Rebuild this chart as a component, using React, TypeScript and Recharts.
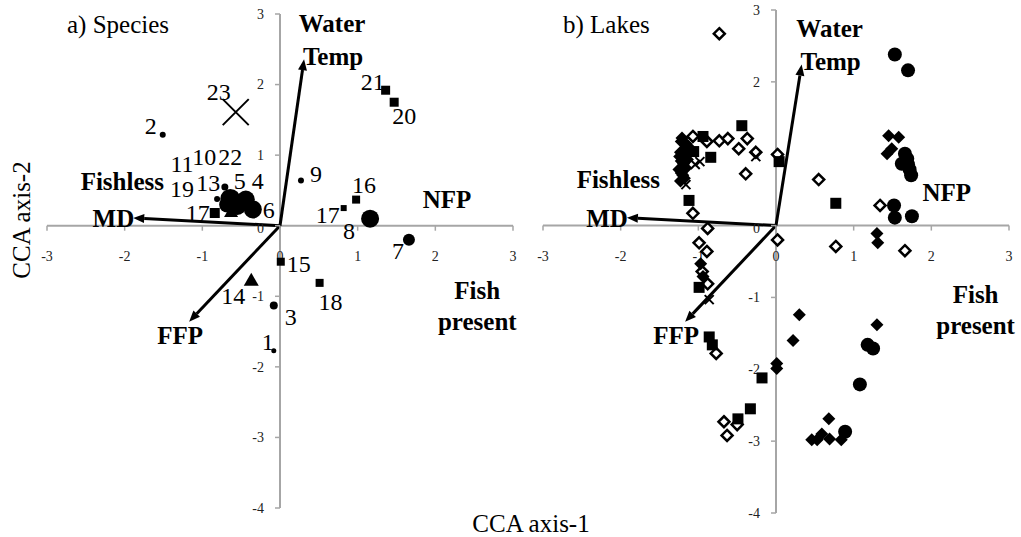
import React from 'react';
import { ScatterChart, Scatter, XAxis, YAxis, ReferenceLine, ReferenceDot } from 'recharts';

const SERIF = "'Times New Roman', 'Liberation Serif', serif";
const AXIS_GREY = '#a6a6a6';
const INK = '#000';

const xTicks = [-3, -2, -1, 0, 1, 2, 3];
const yTicks = [3, 2, 1, 0, -1, -2, -3, -4];

// ---------- a) Species scores ----------
const speciesScores = [
  { key: 's1', label: '1', x: -0.08, y: -1.77 },
  { key: 's2', label: '2', x: -1.51, y: 1.29 },
  { key: 's3', label: '3', x: -0.08, y: -1.13 },
  { key: 's4', label: '4', x: -0.44, y: 0.37 },
  { key: 's5', label: '5', x: -0.71, y: 0.55 },
  { key: 's6', label: '6', x: -0.35, y: 0.23 },
  { key: 's7', label: '7', x: 1.66, y: -0.2 },
  { key: 's8', label: '8', x: 1.16, y: 0.1 },
  { key: 's9', label: '9', x: 0.27, y: 0.64 },
  { key: 's10', label: '10', x: -0.64, y: 0.38 },
  { key: 's11', label: '11', x: -0.63, y: 0.18 },
  { key: 's13', label: '13', x: -0.68, y: 0.3 },
  { key: 's14', label: '14', x: -0.37, y: -0.79 },
  { key: 's15', label: '15', x: 0.01, y: -0.51 },
  { key: 's16', label: '16', x: 0.98, y: 0.37 },
  { key: 's17a', label: '17', x: -0.84, y: 0.18 },
  { key: 's17b', label: '17', x: 0.82, y: 0.25 },
  { key: 's18', label: '18', x: 0.51, y: -0.81 },
  { key: 's19', label: '19', x: -0.81, y: 0.38 },
  { key: 's20', label: '20', x: 1.47, y: 1.75 },
  { key: 's21', label: '21', x: 1.36, y: 1.92 },
  { key: 's22', label: '22', x: -0.55, y: 0.28 },
  { key: 's23', label: '23', x: -0.57, y: 1.61 },
];

// Environmental vectors (arrow tips) and nominal-variable centroids
const vectorsA = [
  { name: 'Water Temp', x: 0.31, y: 2.36 },
  { name: 'MD', x: -1.89, y: 0.11 },
  { name: 'FFP', x: -1.17, y: -1.36 },
];
const centroidsA = [
  { name: 'Fishless', x: -2.03, y: 0.62 },
  { name: 'NFP', x: 2.15, y: 0.37 },
  { name: 'Fish present', x: 2.54, y: -1.14 },
];

// ---------- b) Lake scores ----------
const lakesCircle = [
  { x: 1.53, y: 2.38 }, { x: 1.7, y: 2.16 }, { x: 1.66, y: 1.0 }, { x: 1.69, y: 0.93 },
  { x: 1.62, y: 0.86 }, { x: 1.7, y: 0.85 }, { x: 1.72, y: 0.78 }, { x: 1.74, y: 0.7 },
  { x: 1.52, y: 0.28 }, { x: 1.53, y: 0.11 }, { x: 1.75, y: 0.13 }, { x: 1.18, y: -1.66 },
  { x: 1.25, y: -1.71 }, { x: 1.08, y: -2.21 }, { x: 0.89, y: -2.87 },
];
const lakesDiamond = [
  { x: 1.45, y: 1.25 }, { x: 1.58, y: 1.23 }, { x: 1.49, y: 1.07 }, { x: 1.43, y: 1.0 },
  { x: 1.3, y: -0.11 }, { x: 1.31, y: -0.24 }, { x: 0.3, y: -1.24 }, { x: 1.3, y: -1.38 },
  { x: 0.22, y: -1.6 }, { x: 0.01, y: -1.92 }, { x: 0.01, y: -1.99 }, { x: 0.68, y: -2.69 },
  { x: 0.59, y: -2.9 }, { x: 0.46, y: -2.98 }, { x: 0.53, y: -2.98 }, { x: 0.69, y: -2.97 },
  { x: 0.84, y: -2.98 }, { x: -1.22, y: 1.17 }, { x: -1.18, y: 1.06 }, { x: -1.24, y: 0.96 },
  { x: -1.19, y: 0.86 }, { x: -1.25, y: 0.78 }, { x: -1.2, y: 0.7 }, { x: -1.13, y: 1.1 },
  { x: -1.14, y: 0.92 }, { x: -1.23, y: 0.62 }, { x: -0.97, y: -0.53 }, { x: -0.94, y: -0.71 },
  { x: -1.21, y: 1.22 }, { x: -1.16, y: 1.14 }, { x: -1.23, y: 1.02 }, { x: -1.17, y: 0.99 },
  { x: -1.22, y: 0.9 }, { x: -1.16, y: 0.8 }, { x: -1.22, y: 0.73 }, { x: -1.18, y: 0.66 },
];
const lakesOpenDiamond = [
  { x: 0.02, y: 0.99 }, { x: 0.55, y: 0.64 }, { x: 1.34, y: 0.28 }, { x: 0.02, y: -0.2 },
  { x: 0.77, y: -0.29 }, { x: 1.66, y: -0.35 }, { x: -0.73, y: 2.67 }, { x: -1.07, y: 1.24 },
  { x: -0.89, y: 1.17 }, { x: -0.73, y: 1.18 }, { x: -0.62, y: 1.21 }, { x: -0.48, y: 1.07 },
  { x: -0.37, y: 1.21 }, { x: -0.26, y: 1.02 }, { x: -0.39, y: 0.72 }, { x: -1.07, y: 0.17 },
  { x: -0.88, y: -0.04 }, { x: -0.99, y: -0.24 }, { x: -0.89, y: -0.36 }, { x: -0.95, y: -0.64 },
  { x: -0.88, y: -0.81 }, { x: -0.77, y: -1.78 }, { x: -0.67, y: -2.73 }, { x: -0.5, y: -2.77 },
  { x: -0.63, y: -2.92 },
];
const lakesSquare = [
  { x: -0.44, y: 1.39 }, { x: -0.94, y: 1.24 }, { x: -1.06, y: 1.03 }, { x: -0.84, y: 0.95 },
  { x: -1.12, y: 0.35 }, { x: 0.04, y: 0.89 }, { x: 0.77, y: 0.31 }, { x: -0.99, y: -0.86 },
  { x: -0.86, y: -1.55 }, { x: -0.82, y: -1.66 }, { x: -0.18, y: -2.12 }, { x: -0.33, y: -2.55 },
  { x: -0.49, y: -2.69 },
];
const lakesCross = [
  { x: -1.16, y: 0.57 }, { x: -1.04, y: 0.85 }, { x: -0.98, y: 0.89 }, { x: -0.26, y: 0.96 },
  { x: -0.86, y: -1.03 },
];

const vectorsB = [
  { name: 'Water Temp', x: 0.33, y: 2.24 },
  { name: 'MD', x: -1.92, y: 0.11 },
  { name: 'FFP', x: -1.17, y: -1.34 },
];
const centroidsB = [
  { name: 'Fishless', x: -2.03, y: 0.64 },
  { name: 'NFP', x: 2.2, y: 0.46 },
  { name: 'Fish present', x: 2.57, y: -1.17 },
];

// ---------- marker look per species (shape, diameter in px) ----------
const speciesMarker: Record<string, [string, number]> = {
  s1: ['dot', 5], s2: ['dot', 6], s3: ['dot', 8], s4: ['dot', 18], s5: ['dot', 7],
  s6: ['dot', 18], s7: ['dot', 12], s8: ['dot', 18], s9: ['dot', 6], s10: ['dot', 20],
  s11: ['triangle', 14], s13: ['dot', 16], s14: ['triangle', 15], s15: ['square', 8],
  s16: ['square', 8], s17a: ['square', 10], s17b: ['square', 6], s18: ['square', 8],
  s19: ['dot', 6], s20: ['square', 9], s21: ['square', 9], s22: ['dot', 18], s23: ['cross', 26],
};

// label centre offset from the marker, px
const speciesLabelOffset: Record<string, [number, number]> = {
  s1: [-6, -9], s2: [-12, -9], s3: [17, 11], s4: [12, -19], s5: [15, -6], s6: [16, 0],
  s7: [-11, 11], s8: [-21, 12], s9: [15, -7], s10: [-26, -42], s11: [-49, -49],
  s13: [-19, -22], s14: [-18, 14], s15: [18, 2], s16: [8, -15], s17a: [-17, 0],
  s17b: [-16, 7], s18: [11, 19], s19: [-35, -10], s20: [10, 14], s21: [-13, -8],
  s22: [-7, -49], s23: [-17, -20],
};

const BOLD_SIZE = 25;

function marker(kind: string, cx: number, cy: number, d: number, open = false) {
  const r = d / 2;
  if (kind === 'dot') return <circle cx={cx} cy={cy} r={r} fill={INK} />;
  if (kind === 'square') return <rect x={cx - r} y={cy - r} width={d} height={d} fill={INK} />;
  if (kind === 'triangle') {
    const h = d * 0.87;
    return (
      <polygon
        points={`${cx},${cy - (h * 2) / 3} ${cx - r},${cy + h / 3} ${cx + r},${cy + h / 3}`}
        fill={INK}
      />
    );
  }
  if (kind === 'diamond') {
    return (
      <polygon
        points={`${cx},${cy - r} ${cx + r},${cy} ${cx},${cy + r} ${cx - r},${cy}`}
        fill={open ? '#fff' : INK}
        stroke={INK}
        strokeWidth={open ? 2.5 : 0}
      />
    );
  }
  // cross
  return (
    <path
      d={`M${cx - r},${cy - r}L${cx + r},${cy + r}M${cx - r},${cy + r}L${cx + r},${cy - r}`}
      stroke={INK}
      strokeWidth={2}
      fill="none"
    />
  );
}

const speciesShape = (p: any) => {
  if (p.cx == null || p.cy == null) return <g />;
  const key = p.payload.key as string;
  const [kind, d] = speciesMarker[key];
  const [dx, dy] = speciesLabelOffset[key];
  return (
    <g>
      {marker(kind, p.cx, p.cy, d)}
      <text
        x={p.cx + dx}
        y={p.cy + dy}
        dy="0.34em"
        textAnchor="middle"
        fontFamily={SERIF}
        fontSize={24}
        fill={INK}
      >
        {p.payload.label}
      </text>
    </g>
  );
};

const simpleShape = (kind: string, d: number, open = false) => (p: any) =>
  p.cx == null ? <g /> : marker(kind, p.cx, p.cy, d, open);

// arrow from origin to the vector tip
const arrowShape = (p: any) => {
  const { x1, y1, x2, y2 } = p;
  const a = Math.atan2(y2 - y1, x2 - x1);
  const L = 11;
  const W = 4.5;
  const bx = x2 - L * Math.cos(a);
  const by = y2 - L * Math.sin(a);
  const s = Math.sin(a);
  const c = Math.cos(a);
  return (
    <g>
      <line x1={x1} y1={y1} x2={bx} y2={by} stroke={INK} strokeWidth={3} />
      <polygon
        points={`${x2},${y2} ${bx - W * s},${by + W * c} ${bx + W * s},${by - W * c}`}
        fill={INK}
      />
    </g>
  );
};

const boldText = (lines: string[], x: number, y: number, anchor: string = 'middle') => (
  <text fontFamily={SERIF} fontWeight="bold" fontSize={BOLD_SIZE} fill={INK} textAnchor={anchor}>
    {lines.map((ln, i) => (
      <tspan key={ln} x={x} y={y + (i - (lines.length - 1) / 2) * 31} dy="0.34em">
        {ln}
      </tspan>
    ))}
  </text>
);

const vectorLabel = (name: string) => (p: any) => {
  const { cx, cy } = p;
  if (name === 'Water Temp') {
    return (
      <text fontFamily={SERIF} fontWeight="bold" fontSize={BOLD_SIZE} fill={INK} textAnchor="middle">
        <tspan x={cx + 28} y={cy - 36} dy="0.34em">Water</tspan>
        <tspan x={cx + 29} y={cy - 3} dy="0.34em">Temp</tspan>
      </text>
    );
  }
  if (name === 'MD') return boldText(['MD'], cx + 1, cy + 1, 'end');
  return boldText([name], cx - 9, cy + 14);
};

const centroidLabel = (name: string) => (p: any) => boldText(name.split(' '), p.cx, p.cy);

const xTickShape = (v: number) => (p: any) => (
  <g>
    <line x1={p.cx} y1={p.cy} x2={p.cx} y2={p.cy + 5} stroke={AXIS_GREY} strokeWidth={1.5} />
    <text x={p.cx} y={p.cy + 31} dy="0.34em" textAnchor="middle" fontFamily={SERIF} fontSize={14} fill="#222">
      {v}
    </text>
  </g>
);

const yTickShape = (v: number) => (p: any) => (
  <g>
    <line x1={p.cx} y1={p.cy} x2={p.cx - 5} y2={p.cy} stroke={AXIS_GREY} strokeWidth={1.5} />
    <text x={p.cx - 16} y={p.cy + (v === 0 ? 3 : 0)} dy="0.34em" textAnchor="end" fontFamily={SERIF} fontSize={14} fill="#222">
      {v}
    </text>
  </g>
);

function axesAndVectors(vectors: { name: string; x: number; y: number }[], centroids: { name: string; x: number; y: number }[]) {
  return [
    <ReferenceLine key="hx" segment={[{ x: -3, y: 0 }, { x: 3, y: 0 }]} stroke={AXIS_GREY} strokeWidth={2} />,
    <ReferenceLine key="vy" segment={[{ x: 0, y: -4 }, { x: 0, y: 3 }]} stroke={AXIS_GREY} strokeWidth={2} />,
    ...xTicks.map((t) => <ReferenceDot key={`xt${t}`} x={t} y={0} r={0} shape={xTickShape(t)} />),
    ...yTicks.map((t) => <ReferenceDot key={`yt${t}`} x={0} y={t} r={0} shape={yTickShape(t)} />),
    ...vectors.map((v) => (
      <ReferenceLine key={`v${v.name}`} segment={[{ x: 0, y: 0 }, { x: v.x, y: v.y }]} shape={arrowShape} />
    )),
    ...vectors.map((v) => (
      <ReferenceDot key={`vl${v.name}`} x={v.x} y={v.y} r={0} shape={vectorLabel(v.name)} />
    )),
    ...centroids.map((c) => (
      <ReferenceDot key={`c${c.name}`} x={c.x} y={c.y} r={0} shape={centroidLabel(c.name)} />
    )),
  ];
}

export default function App() {
  return (
    <div style={{ position: 'absolute', left: 0, top: 0, width: 1021, height: 537, background: '#fff' }}>
      <svg width={1021} height={537} style={{ position: 'absolute', left: 0, top: 0 }}>
        <text x={67} y={33} fontFamily={SERIF} fontSize={25} fill={INK}>a) Species</text>
        <text x={563} y={33} fontFamily={SERIF} fontSize={25} fill={INK}>b) Lakes</text>
        <text
          transform="translate(21,220) rotate(-90)"
          dy="0.34em"
          textAnchor="middle"
          fontFamily={SERIF}
          fontSize={25}
          fill={INK}
        >
          CCA axis-2
        </text>
        <text x={531} y={523} dy="0.34em" textAnchor="middle" fontFamily={SERIF} fontSize={25} fill={INK}>
          CCA axis-1
        </text>
      </svg>

      <div style={{ position: 'absolute', left: 0, top: 0 }}>
        <ScatterChart width={520} height={537} margin={{ top: 14, right: 7, bottom: 29, left: 47 }}>
          <XAxis type="number" dataKey="x" domain={[-3, 3]} hide />
          <YAxis type="number" dataKey="y" domain={[-4, 3]} hide />
          {axesAndVectors(vectorsA, centroidsA)}
          <Scatter data={speciesScores} shape={speciesShape} isAnimationActive={false} />
        </ScatterChart>
      </div>

      <div style={{ position: 'absolute', left: 500, top: 0 }}>
        <ScatterChart width={521} height={537} margin={{ top: 10, right: 12, bottom: 24, left: 43 }}>
          <XAxis type="number" dataKey="x" domain={[-3, 3]} hide />
          <YAxis type="number" dataKey="y" domain={[-4, 3]} hide />
          {axesAndVectors(vectorsB, centroidsB)}
          <Scatter data={lakesOpenDiamond} shape={simpleShape('diamond', 11, true)} isAnimationActive={false} />
          <Scatter data={lakesSquare} shape={simpleShape('square', 11)} isAnimationActive={false} />
          <Scatter data={lakesDiamond} shape={simpleShape('diamond', 13)} isAnimationActive={false} />
          <Scatter data={lakesCircle} shape={simpleShape('dot', 14)} isAnimationActive={false} />
          <Scatter data={lakesCross} shape={simpleShape('cross', 9)} isAnimationActive={false} />
        </ScatterChart>
      </div>
    </div>
  );
}
